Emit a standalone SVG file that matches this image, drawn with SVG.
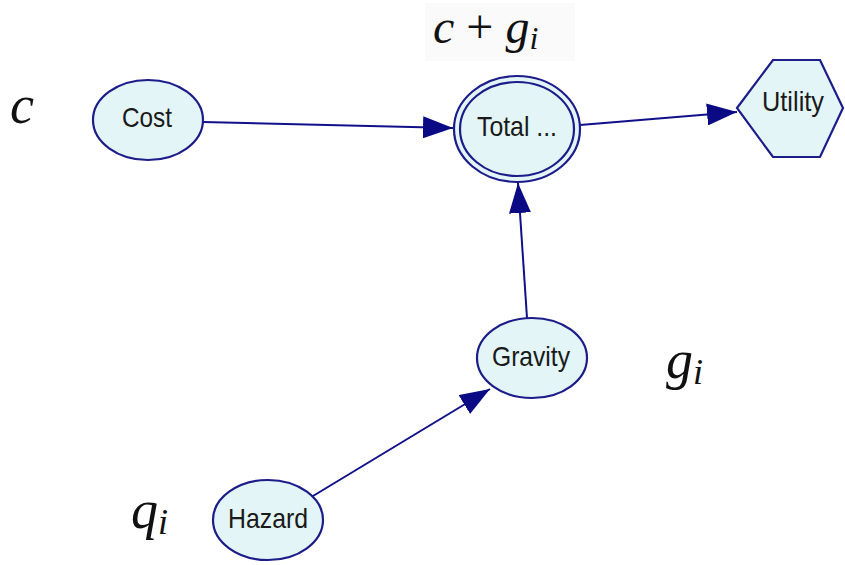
<svg xmlns="http://www.w3.org/2000/svg" width="845" height="565" viewBox="0 0 845 565">
<style>
.node{fill:#e3f5f6;stroke:#1c1c8a;stroke-width:2.2}
.lbl{font-family:"Liberation Sans",Arial,sans-serif;font-size:28px;fill:#1a1a1a;text-anchor:middle}
.edge{stroke:#10108a;stroke-width:2;fill:none}
.math{font-family:"Liberation Serif","DejaVu Serif",serif;font-style:italic;fill:#111}
</style>
<defs>
<marker id="ah" markerWidth="30" markerHeight="22" refX="30" refY="11" orient="auto" markerUnits="userSpaceOnUse">
<path d="M0,0 L30,11 L0,22 Z" fill="#0a0a85"/>
</marker>
</defs>
<rect width="845" height="565" fill="#fff"/>
<g id="connectors">
<line class="edge" x1="203" y1="122" x2="453" y2="128" marker-end="url(#ah)"/>
<line class="edge" x1="580" y1="125" x2="737" y2="112" marker-end="url(#ah)"/>
<line class="edge" x1="527" y1="318" x2="518" y2="183" marker-end="url(#ah)"/>
<line class="edge" x1="313" y1="496" x2="490" y2="389" marker-end="url(#ah)"/>
</g>
<g id="cost">
<ellipse class="node" cx="148" cy="120" rx="55" ry="40"/>
<text class="lbl" x="147" y="127" textLength="50" lengthAdjust="spacingAndGlyphs">Cost</text>
</g>
<g id="total">
<ellipse class="node" cx="517" cy="129" rx="63" ry="53"/>
<ellipse class="node" cx="517" cy="129" rx="57" ry="47"/>
<text class="lbl" x="517" y="136" textLength="80" lengthAdjust="spacingAndGlyphs">Total ...</text>
</g>
<g id="utility">
<polygon class="node" points="737,108 773,60 820,60 843,108 820,157 773,157"/>
<text class="lbl" x="793" y="111" textLength="62" lengthAdjust="spacingAndGlyphs">Utility</text>
</g>
<g id="gravity">
<ellipse class="node" cx="532" cy="358" rx="55" ry="40"/>
<text class="lbl" x="531" y="366" textLength="78" lengthAdjust="spacingAndGlyphs">Gravity</text>
</g>
<g id="hazard">
<ellipse class="node" cx="268" cy="520" rx="55" ry="40"/>
<text class="lbl" x="268" y="528" textLength="80" lengthAdjust="spacingAndGlyphs">Hazard</text>
</g>
<g id="math">
<rect x="425" y="3" width="150" height="58" fill="#fafafa"/>
<text class="math" x="10" y="123" font-size="54">c</text>
<text class="math" x="433" y="43" font-size="48">c <tspan font-style="normal">+</tspan> g<tspan font-size="32" dy="6">i</tspan></text>
<text class="math" x="666" y="378" font-size="54">g<tspan font-size="36" dy="6">i</tspan></text>
<text class="math" x="131" y="528" font-size="54">q<tspan font-size="36" dy="6">i</tspan></text>
</g>
</svg>
